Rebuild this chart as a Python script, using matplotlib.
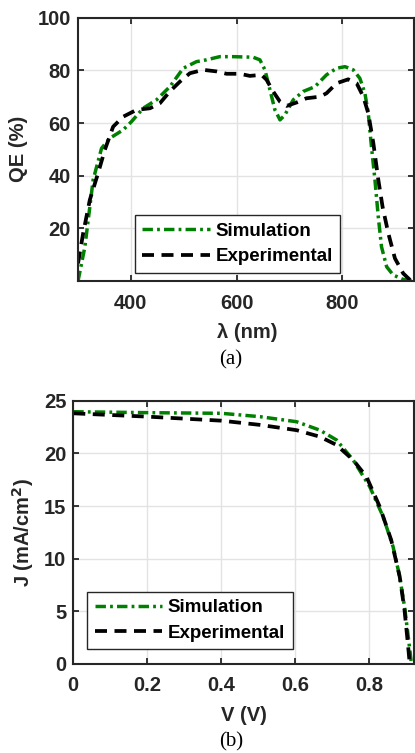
import matplotlib
matplotlib.use("Agg")
import matplotlib.pyplot as plt

plt.rcParams['font.family'] = ['Liberation Sans', 'DejaVu Sans']
plt.rcParams['font.weight'] = 'bold'
plt.rcParams['mathtext.default'] = 'bf'

# QE spectra
wl_sim = [300, 313, 328.6, 344.5, 360, 385.4, 401, 423, 448.5, 473.7, 499, 524, 543,
          568, 593.5, 631, 644, 653.5, 663, 672.4, 682, 691, 707, 726, 748, 770, 789,
          805, 820.5, 833, 842.6, 849, 855, 861.6, 867.9, 874, 883.8, 896, 915, 934]
qe_sim = [0, 13, 38.4, 50.4, 54.2, 57.4, 60.5, 65.6, 68.8, 73.8, 80.8, 83.3, 84,
          85.2, 85.2, 85, 84, 80.2, 72.6, 65, 61.2, 63, 68.8, 72, 73.8, 78.3, 80.8,
          81.4, 80.2, 77, 71.3, 63.7, 51, 38.4, 24.4, 13, 5.4, 2.3, 0.6, 0]

wl_exp = [300, 309.7, 322.3, 338, 350.7, 366.4, 385.4, 410.7, 436, 454.8, 473.7, 492.6,
          511.5, 536.7, 562, 581, 606, 625, 647, 656.7, 669, 682, 694.5, 713.4, 732,
          757.5, 770, 789, 811, 827, 839.6, 849, 858.6, 868, 876, 886.9, 899.4, 915, 928]
qe_exp = [6.7, 18.1, 30.8, 41, 49.8, 58.6, 62.4, 65, 65.6, 67.5, 72, 75.7,
          78.9, 80.2, 79.6, 78.7, 78.7, 77.9, 78.3, 76.4, 72, 68.1, 66.5, 67.8, 69.4,
          70, 71.3, 75.1, 76.6, 75.1, 70, 63.7, 52.3, 38.4, 28.2, 18.1, 8.6, 2.9, 0.4]

# J-V curves
v_sim = [0, 0.203, 0.401, 0.505, 0.604, 0.667, 0.712, 0.757, 0.802, 0.838, 0.865,
         0.883, 0.896, 0.905, 0.9146]
j_sim = [23.95, 23.86, 23.8, 23.48, 23.0, 22.2, 21.27, 19.37, 16.83, 14.0, 11.14,
         8.29, 5.44, 2.91, 0.07]

v_exp = [0, 0.203, 0.401, 0.505, 0.604, 0.667, 0.712, 0.757, 0.793, 0.829, 0.860,
         0.883, 0.896, 0.905, 0.910]
j_exp = [23.8, 23.48, 23.1, 22.7, 22.2, 21.58, 20.8, 19.37, 17.78, 14.93, 11.77,
         8.29, 5.13, 1.97, 0.07]

GREEN = '#008000'
AXCOL = '#262626'
FS = 14.5
sim_style = dict(color=GREEN, lw=2.5, linestyle=(0, (3.0, 1.2, 0.8, 1.2)))
exp_style = dict(color='black', lw=2.7, linestyle=(0, (3.2, 2.0)))

fig = plt.figure(figsize=(4.15, 7.53), dpi=100)
ax1 = fig.add_axes([0.188, 0.6268, 0.809, 0.3497])
ax2 = fig.add_axes([0.1766, 0.1182, 0.8204, 0.3497])


def style_axes(ax):
    ax.grid(True, color='#e3e3e3', lw=1.0)
    ax.set_axisbelow(True)
    for s in ax.spines.values():
        s.set_color(AXCOL)
        s.set_linewidth(1.5)
    ax.tick_params(direction='in', length=4, width=1.3, colors=AXCOL,
                   labelsize=FS, top=True, right=True)
    ax.tick_params(axis='x', pad=9)
    ax.tick_params(axis='y', pad=5)
    for lab in ax.get_xticklabels() + ax.get_yticklabels():
        lab.set_fontweight('bold')


def add_legend(ax, anchor):
    leg = ax.legend(loc='lower left', bbox_to_anchor=anchor, fontsize=13.5,
                    handlelength=3.6, handletextpad=0.3, borderpad=0.4,
                    labelspacing=0.45, fancybox=False, framealpha=1,
                    edgecolor=AXCOL, borderaxespad=0)
    leg.get_frame().set_linewidth(1.0)


ax1.plot(wl_sim, qe_sim, label='Simulation', **sim_style)
ax1.plot(wl_exp, qe_exp, label='Experimental', **exp_style)
ax1.set_xlim(300, 935)
ax1.set_ylim(0, 100)
ax1.set_xticks([400, 600, 800])
ax1.set_yticks([20, 40, 60, 80, 100])
style_axes(ax1)
ax1.set_xlabel('λ (nm)', fontsize=FS, fontweight='bold', color=AXCOL)
ax1.set_ylabel('QE (%)', fontsize=FS, fontweight='bold', color=AXCOL)
ax1.xaxis.set_label_coords(0.503, -0.158)
ax1.yaxis.set_label_coords(-0.148, 0.5)
add_legend(ax1, (0.169, 0.0315))

ax2.plot(v_sim, j_sim, label='Simulation', **sim_style)
ax2.plot(v_exp, j_exp, label='Experimental', **exp_style)
ax2.set_xlim(0, 0.921)
ax2.set_ylim(0, 25)
ax2.set_xticks([0, 0.2, 0.4, 0.6, 0.8])
ax2.set_xticklabels(['0', '0.2', '0.4', '0.6', '0.8'])
ax2.set_yticks([0, 5, 10, 15, 20, 25])
style_axes(ax2)
ax2.set_xlabel('V (V)', fontsize=FS, fontweight='bold', color=AXCOL)
ax2.set_ylabel('J (mA/cm$^{2}$)', fontsize=FS, fontweight='bold', color=AXCOL)
ax2.xaxis.set_label_coords(0.5, -0.158)
ax2.yaxis.set_label_coords(-0.11, 0.5)
add_legend(ax2, (0.041, 0.056))

fig.text(231 / 415, 1 - 360 / 753, '(a)', ha='center', va='center',
         fontsize=15, fontweight='normal', family='Liberation Serif')
fig.text(231 / 415, 1 - 742 / 753, '(b)', ha='center', va='center',
         fontsize=15, fontweight='normal', family='Liberation Serif')

fig.savefig('out.png', dpi=100)
